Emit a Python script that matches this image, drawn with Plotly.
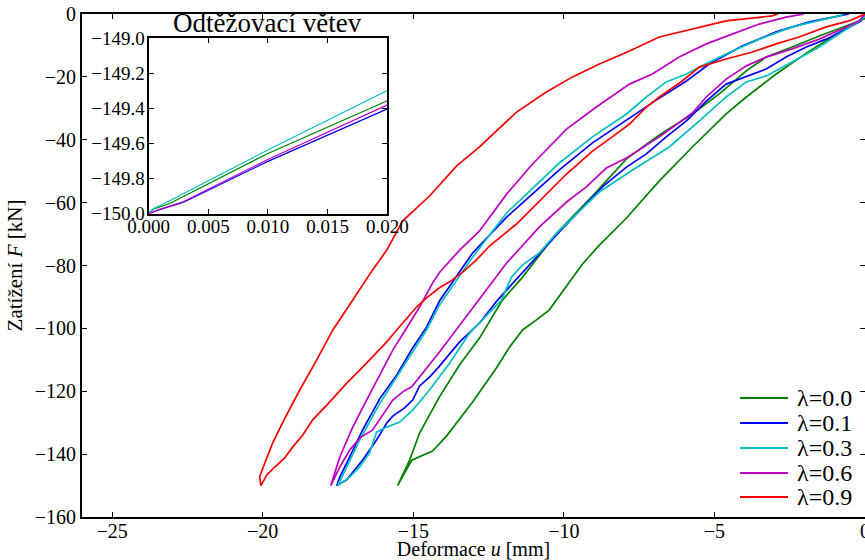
import plotly.graph_objects as go

labels = ["λ=0.0", "λ=0.1", "λ=0.3", "λ=0.6", "λ=0.9"]
colors = ["#008000", "#0000FF", "#00BFBF", "#BF00BF", "#FF0000"]

# ---- main chart data: loading branch (origin -> min) followed by unloading branch ----
u_00 = [0, -0.20, -0.76, -1.85, -2.95, -3.94, -4.61, -5.73, -6.83, -7.92, -8.82, -9.38, -9.91, -10.48,
        -10.91, -11.37, -11.80, -12.24, -13.03, -13.89, -14.36, -15.05, -15.52,
        -15.12, -14.79, -14.13, -13.46, -12.80, -12.04, -11.37, -10.24, -9.05, -7.92, -6.83, -5.73,
        -4.84, -3.94, -3.28, -2.42, -1.52, -0.63, -0.03, 0.15]
F_00 = [0, -2.5, -5.4, -11.8, -19.1, -26.4, -31.8, -42.3, -53.1, -64.9, -73.5, -79.5, -86.5, -94.1,
        -97.3, -100.5, -105.9, -112.6, -123.4, -134.2, -139.0, -141.9, -150.0,
        -141.9, -133.3, -121.8, -111.6, -103.1, -91.0, -83.7, -69.7, -57.9, -46.1, -38.5, -31.8,
        -25.4, -18.1, -13.7, -10.5, -7.0, -3.8, -1.6, 0]

u_01 = [0, -0.13, -0.63, -1.29, -1.95, -2.62, -3.28, -3.94, -4.61, -5.27, -5.93, -6.60, -7.26, -7.92,
        -8.72, -10.15, -11.37, -12.20, -12.80, -13.46, -14.13, -14.46, -14.79, -15.02, -15.29, -15.68,
        -15.88, -16.22, -16.68, -17.01, -17.21, -17.54,
        -17.44, -17.11, -16.68, -16.12, -15.55, -15.02, -14.56, -14.13, -13.03, -11.90, -10.81, -10.15,
        -9.05, -7.92, -6.93, -5.93, -5.17, -4.08, -2.95, -1.85, -0.76, -0.53]
F_01 = [0, -2.2, -4.8, -8.0, -10.5, -13.7, -17.5, -20.0, -22.3, -27.7, -34.0, -39.1, -44.5, -48.7,
        -55.0, -69.3, -82.4, -91.0, -98.3, -104.3, -112.0, -115.5, -118.3, -122.8, -125.3, -127.9,
        -130.1, -135.5, -141.9, -146.0, -148.2, -150.0,
        -147.3, -140.9, -132.3, -122.5, -114.8, -106.2, -99.6, -91.3, -76.0, -64.6, -55.3, -49.6,
        -41.0, -33.7, -27.4, -21.3, -15.9, -10.2, -5.7, -2.5, -0.6, 0]

u_03 = [0, -0.10, -0.76, -1.52, -2.42, -3.28, -3.94, -4.61, -5.50, -6.50, -7.72, -8.82, -10.24, -10.81,
        -11.37, -11.74, -12.07, -13.13, -13.79, -14.46, -15.02, -15.45, -15.88, -16.22, -16.45, -16.78,
        -17.11, -17.51,
        -17.21, -16.78, -16.12, -15.68, -15.12, -14.56, -14.13, -13.03, -11.90, -10.81, -10.15, -9.05,
        -7.92, -7.26, -6.60, -5.93, -5.50, -4.61, -3.51, -2.42, -1.52, -0.86, -0.69]
F_03 = [0, -1.6, -5.7, -10.5, -15.3, -19.7, -21.6, -26.4, -34.0, -42.3, -49.6, -56.6, -69.7, -76.0,
        -79.8, -83.7, -91.0, -101.5, -111.0, -119.6, -126.0, -129.8, -131.4, -133.0, -139.6, -144.1,
        -147.3, -150.0,
        -144.1, -135.5, -124.0, -117.4, -109.1, -100.5, -92.6, -77.3, -63.3, -53.4, -47.4, -39.1,
        -31.8, -26.4, -21.6, -19.1, -16.9, -12.7, -8.0, -4.1, -2.2, -0.6, 0]

u_06 = [0, -0.20, -0.76, -1.52, -2.42, -3.28, -3.94, -4.61, -5.27, -5.73, -6.83, -7.92, -8.59, -9.25,
        -9.91, -10.81, -11.90, -13.06, -14.13, -15.05, -15.35, -15.68, -16.02, -16.35, -16.78, -17.11,
        -17.44, -17.74,
        -17.44, -17.01, -16.55, -16.12, -15.68, -15.22, -14.79, -14.36, -14.13, -13.46, -12.80, -11.90,
        -11.04, -9.91, -8.92, -7.82, -7.06, -6.17, -5.27, -4.41, -3.51, -2.62, -2.02]
F_06 = [0, -2.2, -4.8, -8.0, -11.1, -13.7, -16.5, -20.7, -26.4, -31.5, -39.1, -45.8, -49.0, -55.0,
        -59.8, -67.7, -79.2, -94.1, -107.5, -118.6, -120.2, -122.8, -127.5, -132.3, -134.9, -138.7,
        -144.1, -150.0,
        -140.9, -131.4, -122.8, -114.8, -106.9, -99.9, -93.2, -85.6, -82.2, -75.1, -69.0, -57.3,
        -47.7, -36.6, -29.6, -22.3, -19.1, -13.7, -9.5, -6.4, -3.2, -1.0, 0]

u_09 = [0, -0.53, -1.29, -2.19, -2.95, -3.74, -4.61, -5.50, -6.07, -6.83, -7.26, -7.82, -8.39, -9.05,
        -9.91, -10.81, -11.57, -12.47, -12.90, -13.36, -13.79, -14.13, -14.56, -14.89, -15.22, -15.55,
        -15.88, -16.22, -16.68, -17.21, -17.77, -18.34, -18.67, -19.00, -19.27, -19.60, -19.86, -20.06,
        -20.10, -19.93, -19.67, -19.33, -18.77, -18.21, -17.67, -17.01, -16.35, -15.88, -15.35, -14.46,
        -13.56, -12.80, -11.57, -10.58, -9.71, -8.82, -7.82, -6.83, -5.73, -4.61, -3.08, -2.90]
F_09 = [0, -2.2, -4.1, -7.3, -9.5, -12.1, -14.3, -16.9, -21.3, -26.4, -29.6, -35.0, -39.1, -43.6,
        -50.9, -59.5, -66.8, -73.8, -78.2, -82.1, -85.2, -87.1, -90.3, -93.2, -96.7, -100.5,
        -104.3, -107.8, -112.3, -117.4, -123.4, -129.1, -133.9, -137.7, -141.2, -144.1, -146.6, -150.0,
        -147.2, -142.8, -136.5, -129.8, -119.6, -110.1, -100.5, -91.0, -81.4, -75.1, -65.8, -57.9,
        -48.3, -42.3, -31.2, -24.8, -20.0, -15.9, -11.8, -7.3, -4.8, -2.2, -0.6, 0]

# ---- inset data: start of the unloading branch ----
du_00 = [0, 0.0004, 0.00177, 0.0099, 0.020]
dF_00 = [-150.0, -149.975, -149.942, -149.66, -149.357]
du_01 = [0, 0.00093, 0.00289, 0.0099, 0.020]
dF_01 = [-150.0, -149.977, -149.936, -149.705, -149.403]
du_03 = [0, 0.0004, 0.00149, 0.0099, 0.020]
dF_03 = [-150.0, -149.972, -149.936, -149.64, -149.298]
du_06 = [0, 0.00093, 0.00289, 0.0099, 0.020]
dF_06 = [-150.0, -149.975, -149.932, -149.694, -149.380]

main_u = [u_00, u_01, u_03, u_06, u_09]
main_F = [F_00, F_01, F_03, F_06, F_09]
ins_u = [du_00, du_01, du_03, du_06]
ins_F = [dF_00, dF_01, dF_03, dF_06]

FONT = "Liberation Serif"

fig = go.Figure()
for lab, col, u, F in zip(labels, colors, main_u, main_F):
    fig.add_trace(go.Scatter(x=u, y=F, mode="lines", name=lab, showlegend=False,
                             line=dict(color=col, width=1.7), xaxis="x", yaxis="y"))
for col, u, F in zip(colors, ins_u, ins_F):
    fig.add_trace(go.Scatter(x=u, y=F, mode="lines", showlegend=False,
                             line=dict(color=col, width=1.2), xaxis="x2", yaxis="y2"))

ax_common = dict(showgrid=False, zeroline=False, showline=True, linecolor="black", linewidth=2,
                 mirror="ticks", ticks="inside", ticklen=5, tickwidth=1, tickcolor="black",
                 automargin=False, ticklabeloverflow="allow")
main_tick = dict(family=FONT, size=20, color="black")
ins_tick = dict(family=FONT, size=19, color="black")

ix0, ix1 = 0.085, 0.39
iy0, iy1 = 0.603, 0.952

# legend drawn as text + line samples (matplotlib-like compact spacing)
leg_x0, leg_x1, leg_tx = 0.8404, 0.9017, 0.9106
leg_y = [0.2366, 0.1869, 0.1372, 0.0875, 0.0398]
shapes = []
annotations = [dict(text="Odtěžovací větev", x=(ix0 + ix1) / 2, y=iy1, xref="paper", yref="paper",
                    xanchor="center", yanchor="bottom", yshift=-2, showarrow=False,
                    font=dict(family=FONT, size=27, color="black"))]
for lab, col, yy in zip(labels, colors, leg_y):
    shapes.append(dict(type="line", xref="paper", yref="paper", x0=leg_x0, x1=leg_x1, y0=yy, y1=yy,
                       line=dict(color=col, width=2)))
    annotations.append(dict(text=lab, x=leg_tx, y=yy, xref="paper", yref="paper", xanchor="left",
                            yanchor="middle", showarrow=False,
                            font=dict(family=FONT, size=24, color="black")))

fig.update_layout(
    width=865, height=560,
    margin=dict(l=82, r=0, t=14, b=43),
    paper_bgcolor="white", plot_bgcolor="white",
    font=dict(family=FONT, color="black"),
    showlegend=False,
    xaxis=dict(range=[-26, 0], tickvals=[-25, -20, -15, -10, -5, 0], domain=[0, 1],
               ticklabelstandoff=-5, tickfont=main_tick,
               title=dict(text="Deformace <i>u</i> [mm]", font=dict(family=FONT, size=20), standoff=3),
               **ax_common),
    yaxis=dict(range=[-160, 0], tickvals=[-160, -140, -120, -100, -80, -60, -40, -20, 0], domain=[0, 1],
               tickfont=main_tick,
               title=dict(text="Zatížení <i>F</i> [kN]", font=dict(family=FONT, size=21), standoff=6),
               **ax_common),
    xaxis2=dict(range=[0, 0.02], tickvals=[0, 0.005, 0.01, 0.015, 0.02], tickformat=".3f",
                domain=[ix0, ix1], anchor="y2", ticklabelstandoff=-5, tickfont=ins_tick,
                **ax_common),
    yaxis2=dict(range=[-150, -149], tickvals=[-150, -149.8, -149.6, -149.4, -149.2, -149.0],
                tickformat=".1f", domain=[iy0, iy1], anchor="x2", ticklabelstandoff=-2,
                tickfont=ins_tick, **ax_common),
    shapes=shapes,
    annotations=annotations,
)

fig.write_html("out.html")
